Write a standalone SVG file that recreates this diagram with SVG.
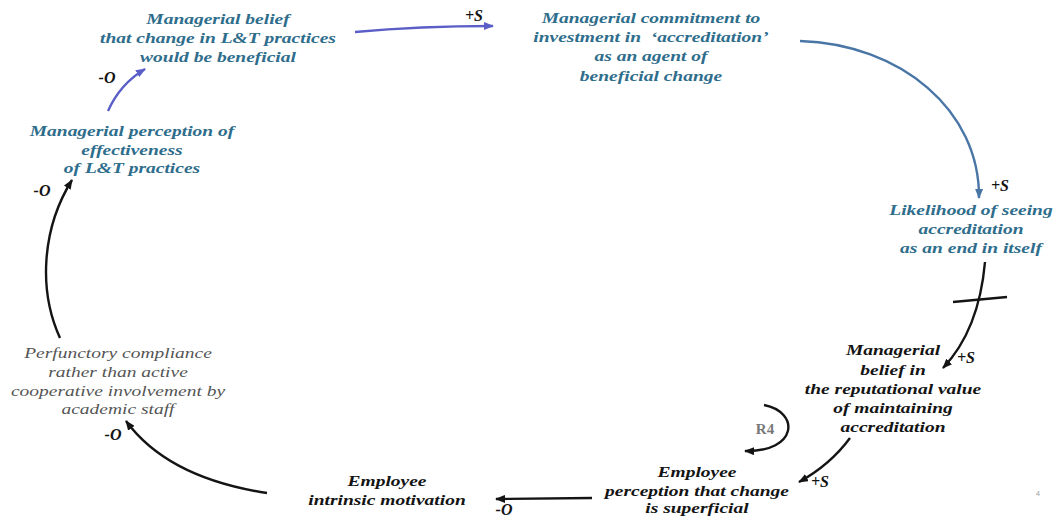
<svg xmlns="http://www.w3.org/2000/svg" width="1059" height="518" viewBox="0 0 1059 518">
<style>
.t{font-family:"Liberation Serif","Times New Roman",serif;font-size:15px;font-style:italic;font-weight:bold;text-anchor:middle}
.blue{fill:#2e6d8c}
.blk{fill:#141414}
.gray{fill:#555;font-weight:normal}
.lbl{font-family:"Liberation Serif","Times New Roman",serif;font-size:16px;font-style:italic;font-weight:bold;fill:#141414;text-anchor:middle}
.c{fill:none;stroke:#141414;stroke-width:2.4}
.cp{fill:none;stroke:#5a5ec6;stroke-width:2.4}
.cs{fill:none;stroke:#4a76a6;stroke-width:2.4}
</style>
<defs>
<marker id="ab" viewBox="0 0 10 8" refX="9" refY="4" markerWidth="10" markerHeight="8" markerUnits="userSpaceOnUse" orient="auto"><path d="M0,0 L10,4 L0,8 z" fill="#141414"/></marker>
<marker id="ap" viewBox="0 0 10 8" refX="9" refY="4" markerWidth="10" markerHeight="8" markerUnits="userSpaceOnUse" orient="auto"><path d="M0,0 L10,4 L0,8 z" fill="#5a5ec6"/></marker>
<marker id="as" viewBox="0 0 10 8" refX="9" refY="4" markerWidth="10" markerHeight="8" markerUnits="userSpaceOnUse" orient="auto"><path d="M0,0 L10,4 L0,8 z" fill="#4a76a6"/></marker>
</defs>
<g id="connectors">
<path class="cp" d="M355,32 Q420,26 493,26" marker-end="url(#ap)"/>
<path class="cp" d="M108,111 Q120,84 145,69" marker-end="url(#ap)"/>
<path class="cs" d="M800,41 C900,44 980,110 979,198" marker-end="url(#as)"/>
<path class="c" d="M985,262 Q979,330 943,368" marker-end="url(#ab)"/>
<path class="c" d="M953,302 L1007,297" stroke-width="2"/>
<path class="c" d="M850,438 Q830,465 799,482" marker-end="url(#ab)"/>
<path class="c" d="M592,498 L496,499" marker-end="url(#ab)"/>
<path class="c" d="M267,493 Q168,478 126,421" marker-end="url(#ab)"/>
<path class="c" d="M60,338 C38,290 42,228 72,180" marker-end="url(#ab)"/>
<path class="c" d="M764,405 C800,412 798,452 745,451" stroke-width="2" marker-end="url(#ab)"/>
</g>
<g id="n1" transform="translate(218,0) scale(1.3,1)"><text class="t blue"><tspan x="0" y="24">Managerial belief</tspan><tspan x="0" y="43">that change in L&amp;T practices</tspan><tspan x="0" y="62">would be beneficial</tspan></text></g>
<g id="n2" transform="translate(651,0) scale(1.3,1)"><text class="t blue"><tspan x="0" y="23">Managerial commitment to</tspan><tspan x="0" y="42">investment in&#160; ‘accreditation’</tspan><tspan x="0" y="61">as an agent of</tspan><tspan x="0" y="81">beneficial change</tspan></text></g>
<g id="n3" transform="translate(971,0) scale(1.3,1)"><text class="t blue"><tspan x="0" y="215">Likelihood of seeing</tspan><tspan x="0" y="234">accreditation</tspan><tspan x="0" y="253">as an end in itself</tspan></text></g>
<g id="n4" transform="translate(893,0) scale(1.3,1)"><text class="t blk"><tspan x="0" y="355">Managerial</tspan><tspan x="0" y="375">belief in</tspan><tspan x="0" y="394">the reputational value</tspan><tspan x="0" y="413">of maintaining</tspan><tspan x="0" y="432">accreditation</tspan></text></g>
<g id="n5" transform="translate(697,0) scale(1.3,1)"><text class="t blk"><tspan x="0" y="477">Employee</tspan><tspan x="0" y="496">perception that change</tspan><tspan x="0" y="513">is superficial</tspan></text></g>
<g id="n6" transform="translate(387,0) scale(1.3,1)"><text class="t blk"><tspan x="0" y="486">Employee</tspan><tspan x="0" y="505">intrinsic motivation</tspan></text></g>
<g id="n7" transform="translate(118,0) scale(1.3,1)"><text class="t gray"><tspan x="0" y="358">Perfunctory compliance</tspan><tspan x="0" y="377">rather than active</tspan><tspan x="0" y="396">cooperative involvement by</tspan><tspan x="0" y="414">academic staff</tspan></text></g>
<g id="n8" transform="translate(132,0) scale(1.3,1)"><text class="t blue"><tspan x="0" y="136">Managerial perception of</tspan><tspan x="0" y="155">effectiveness</tspan><tspan x="0" y="173">of L&amp;T practices</tspan></text></g>
<g id="labels">
<text class="lbl" x="474" y="21">+S</text>
<text class="lbl" x="107" y="83">-O</text>
<text class="lbl" x="42" y="196">-O</text>
<text class="lbl" x="1000" y="191">+S</text>
<text class="lbl" x="966" y="363">+S</text>
<text class="lbl" x="820" y="487">+S</text>
<text class="lbl" x="504" y="515">-O</text>
<text class="lbl" x="113" y="440">-O</text>
<text x="765" y="434" font-family="Liberation Serif, serif" font-size="15" font-weight="bold" fill="#777" text-anchor="middle">R4</text>
<text x="1038" y="496" font-family="Liberation Sans, sans-serif" font-size="7" fill="#999" text-anchor="middle">4</text>
</g>
</svg>
